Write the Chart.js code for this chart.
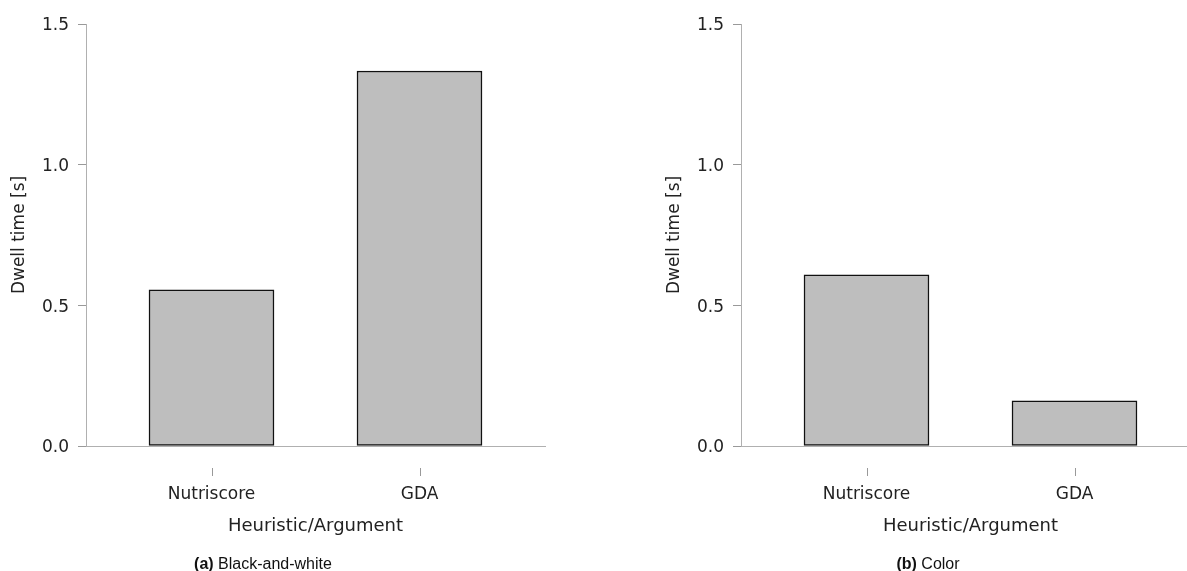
<!DOCTYPE html>
<html>
<head>
<meta charset="utf-8">
<script src="https://cdn.jsdelivr.net/npm/chart.js@4"></script>
<style>
  html, body { margin: 0; padding: 0; background: #fff; }
  body { width: 1187px; height: 571px; overflow: hidden; position: relative; }
  .panel { position: absolute; top: 0; width: 600px; height: 571px; }
  .caption {
    position: absolute; top: 553px; width: 300px; text-align: center;
    font-family: "Liberation Sans", Arial, sans-serif; font-size: 16px; color: #111;
    line-height: 22px;
  }
</style>
</head>
<body>
<div class="panel" style="left:0px"><canvas id="chartBW" width="600" height="571"></canvas></div>
<div class="panel" style="left:655px"><canvas id="chartColor" width="600" height="571"></canvas></div>
<div class="caption" style="left:113px"><b>(a)</b> Black-and-white</div>
<div class="caption" style="left:778px"><b>(b)</b> Color</div>
<script>
// data
const categories = ['Nutriscore', 'GDA'];
const dwellBW = [0.555, 1.333];
const dwellColor = [0.608, 0.161];
const yTicks = [0.0, 0.5, 1.0, 1.5];

Chart.defaults.font.family = 'DejaVu Sans';
Chart.defaults.font.size = 17;
Chart.defaults.color = '#222';

// small detached tick marks under the x axis
const xTickMarks = {
  id: 'xTickMarks',
  afterDraw(chart) {
    const ctx = chart.ctx;
    const xs = chart.scales.x;
    ctx.save();
    ctx.strokeStyle = '#999';
    ctx.lineWidth = 1;
    xs.ticks.forEach(t => {
      const x = Math.round(xs.getPixelForValue(t.value)) + 0.5;
      ctx.beginPath();
      ctx.moveTo(x, 468);
      ctx.lineTo(x, 476);
      ctx.stroke();
    });
    ctx.restore();
  }
};

function makeChart(id, values) {
  const ctx = document.getElementById(id).getContext('2d');
  return new Chart(ctx, {
    type: 'bar',
    data: {
      datasets: [{
        data: values.map((v, i) => ({ x: i + 1, y: v })),
        backgroundColor: '#bebebe',
        borderColor: '#111',
        borderWidth: 1.5,
        borderSkipped: false,
        barThickness: 125
      }]
    },
    options: {
      responsive: false,
      animation: false,
      layout: { padding: { left: 0, right: 55, top: 24, bottom: 0 } },
      scales: {
        x: {
          type: 'linear',
          offset: false,
          min: 1 - 125.5 / 208,
          max: categories.length + 125.5 / 208,
          afterFit: s => { s.height = 125; },
          afterBuildTicks: s => { s.ticks = categories.map((c, i) => ({ value: i + 1 })); },
          grid: { display: true, drawOnChartArea: false, drawTicks: false, offset: false },
          border: { display: true, color: '#b0b0b0', width: 1 },
          ticks: {
            padding: 38,
            callback: (v, i) => categories[i]
          },
          title: {
            display: true,
            text: 'Heuristic/Argument',
            font: { size: 18 },
            padding: { top: 34, bottom: 34 }
          }
        },
        y: {
          min: 0,
          max: 1.5,
          afterFit: s => { s.width = 86; },
          afterBuildTicks: s => { s.ticks = yTicks.map(v => ({ value: v })); },
          grid: { display: true, drawOnChartArea: false, tickLength: 8, color: '#999' },
          border: { display: true, color: '#b0b0b0', width: 1 },
          ticks: {
            padding: 9,
            labelOffset: 2,
            callback: v => v.toFixed(1)
          },
          title: {
            display: true,
            text: 'Dwell time [s]',
            padding: { top: 9, bottom: 9 }
          }
        }
      },
      plugins: {
        legend: { display: false },
        tooltip: { enabled: false }
      }
    },
    plugins: [xTickMarks]
  });
}

makeChart('chartBW', dwellBW);
makeChart('chartColor', dwellColor);
</script>
</body>
</html>
